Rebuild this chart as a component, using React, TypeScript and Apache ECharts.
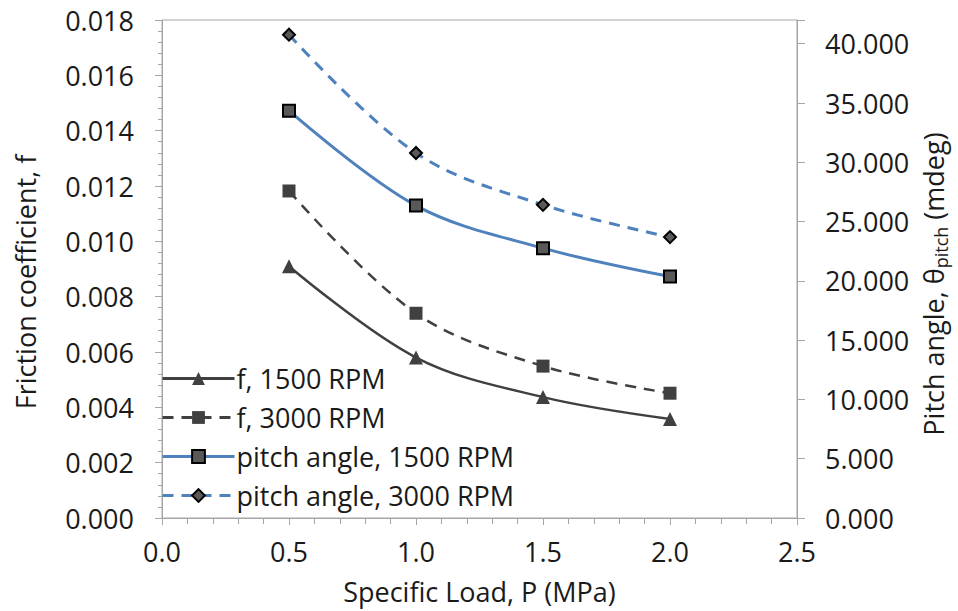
import React, { useEffect, useRef } from "react";
import * as echarts from "echarts";

const loads = [0.5, 1.0, 1.5, 2.0];
const f1500 = [0.0091, 0.0058, 0.00437, 0.00358];
const f3000 = [0.01182, 0.0074, 0.00549, 0.00451];
const pitch1500 = [34.35, 26.35, 22.76, 20.36];
const pitch3000 = [40.76, 30.78, 26.41, 23.69];
const seriesNames = ["f, 1500 RPM", "f, 3000 RPM", "pitch angle, 1500 RPM", "pitch angle, 3000 RPM"];

const FONT = "'Open Sans', 'Liberation Sans', sans-serif";
const AXIS_GRAY = "#a6a6a6";
const TEXT = "#1a1a1a";
const DARK = "#404040";
const BLUE = "#4F81BD";

const pairs = (ys: number[]) => loads.map((x, i) => [x, ys[i]]);

export default function App() {
  const ref = useRef<HTMLDivElement>(null);
  useEffect(() => {
    if (!ref.current) return;
    const chart = echarts.init(ref.current, undefined, { renderer: "svg" });
    chart.setOption({
      animation: false,
      backgroundColor: "#fff",
      textStyle: { fontFamily: FONT },
      grid: {
        left: 162,
        right: 161,
        top: 20,
        bottom: 93,
        show: true,
        borderColor: AXIS_GRAY,
        borderWidth: 1,
      },
      legend: {
        orient: "vertical",
        left: 156,
        top: 360,
        itemWidth: 72,
        itemHeight: 16,
        itemGap: 12,
        data: seriesNames,
        lineStyle: { width: 3 },
        textStyle: { fontSize: 27, color: TEXT, fontFamily: FONT, padding: [0, 0, 0, -3] },
      },
      xAxis: {
        type: "value",
        min: 0,
        max: 2.5,
        interval: 0.5,
        name: "Specific Load, P (MPa)",
        nameLocation: "middle",
        nameGap: 60,
        nameTextStyle: { fontSize: 27, color: TEXT, fontFamily: FONT },
        axisLine: { show: true, lineStyle: { color: AXIS_GRAY, width: 1 } },
        axisTick: { show: true, inside: false, length: 7, lineStyle: { color: AXIS_GRAY } },
        minorTick: { show: true, splitNumber: 5, length: 6, lineStyle: { color: AXIS_GRAY } },
        splitLine: { show: false },
        axisLabel: {
          fontSize: 27,
          color: TEXT,
          fontFamily: FONT,
          margin: 20,
          formatter: (v: number) => v.toFixed(1),
        },
      },
      yAxis: [
        {
          type: "value",
          min: 0,
          max: 0.018,
          interval: 0.002,
          position: "left",
          name: "Friction coefficient, f",
          nameLocation: "middle",
          nameRotate: 90,
          nameGap: 123,
          nameTextStyle: { fontSize: 27, color: TEXT, fontFamily: FONT, padding: [0, 26, 0, 0] },
          axisLine: { show: true, lineStyle: { color: AXIS_GRAY, width: 1 } },
          axisTick: { show: true, inside: false, length: 7, lineStyle: { color: AXIS_GRAY } },
          minorTick: { show: true, splitNumber: 5, length: 4, lineStyle: { color: AXIS_GRAY } },
          splitLine: { show: false },
          axisLabel: {
            fontSize: 27,
            color: TEXT,
            fontFamily: FONT,
            margin: 28,
            formatter: (v: number) => v.toFixed(3),
          },
        },
        {
          type: "value",
          min: 0,
          max: 42,
          interval: 5,
          position: "right",
          name: "Pitch angle, θ{sub|pitch} (mdeg)",
          nameLocation: "middle",
          nameRotate: 90,
          nameGap: 118,
          nameTextStyle: {
            fontSize: 27,
            color: TEXT,
            fontFamily: FONT,
            padding: [0, 30, 0, 0],
            rich: {
              sub: { fontSize: 18, color: TEXT, fontFamily: FONT, verticalAlign: "bottom", padding: [14, 0, 0, 0] },
            },
          },
          axisLine: { show: true, lineStyle: { color: AXIS_GRAY, width: 1 } },
          axisTick: { show: true, inside: false, length: 8, lineStyle: { color: AXIS_GRAY } },
          splitLine: { show: false },
          axisLabel: {
            fontSize: 27,
            color: TEXT,
            fontFamily: FONT,
            margin: 28,
            formatter: (v: number) => (Math.abs(v % 5) < 1e-9 ? v.toFixed(3) : ""),
          },
        },
      ],
      series: [
        {
          name: seriesNames[0],
          type: "line",
          yAxisIndex: 0,
          data: pairs(f1500),
          smooth: 0.35,
          symbol: "triangle",
          symbolSize: 14,
          lineStyle: { color: DARK, width: 2.5, type: "solid" },
          itemStyle: { color: DARK, borderColor: DARK, borderWidth: 0 },
        },
        {
          name: seriesNames[1],
          type: "line",
          yAxisIndex: 0,
          data: pairs(f3000),
          smooth: 0.35,
          symbol: "rect",
          symbolSize: 13,
          lineStyle: { color: DARK, width: 2.5, type: [11, 8] },
          itemStyle: { color: DARK, borderColor: DARK, borderWidth: 0 },
        },
        {
          name: seriesNames[2],
          type: "line",
          yAxisIndex: 1,
          data: pairs(pitch1500),
          smooth: 0.35,
          symbol: "rect",
          symbolSize: 12,
          lineStyle: { color: BLUE, width: 3, type: "solid" },
          itemStyle: { color: "#595959", borderColor: "#000", borderWidth: 2 },
        },
        {
          name: seriesNames[3],
          type: "line",
          yAxisIndex: 1,
          data: pairs(pitch3000),
          smooth: 0.35,
          symbol: "diamond",
          symbolSize: 12,
          lineStyle: { color: BLUE, width: 3, type: [11, 8] },
          itemStyle: { color: "#595959", borderColor: "#000", borderWidth: 2 },
        },
      ],
    });
    return () => chart.dispose();
  }, []);
  return (
    <div
      ref={ref}
      style={{ position: "fixed", left: 0, top: 0, width: 958, height: 611 }}
    />
  );
}
